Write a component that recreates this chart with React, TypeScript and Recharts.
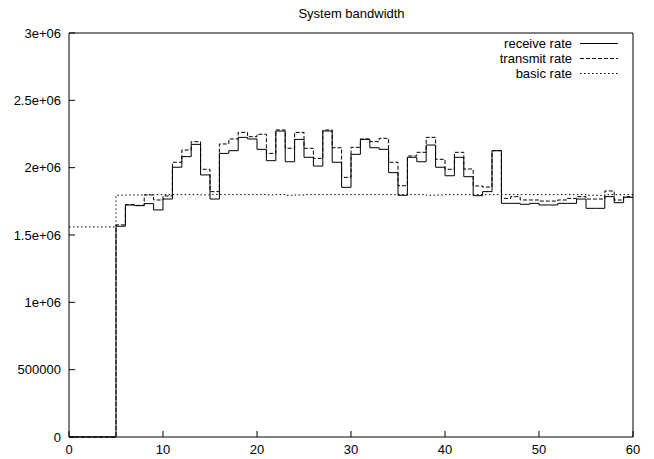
import React from 'react';
import { LineChart, Line, XAxis, YAxis } from 'recharts';

const seconds: number[] = Array.from({ length: 61 }, (_, i) => i);

const receiveRate: number[] = [
  0, 0, 0, 0, 0,
  1.565e6, 1.723e6, 1.718e6, 1.733e6, 1.686e6,
  1.767e6, 2.003e6, 2.082e6, 2.173e6, 1.946e6,
  1.767e6, 2.106e6, 2.126e6, 2.225e6, 2.213e6,
  2.136e6, 2.052e6, 2.272e6, 2.044e6, 2.21e6,
  2.077e6, 2.012e6, 2.272e6, 2.04e6, 1.854e6,
  2.099e6, 2.21e6, 2.148e6, 2.136e6, 1.963e6,
  1.795e6, 2.077e6, 2.044e6, 2.168e6, 2.003e6,
  1.94e6, 2.077e6, 1.933e6, 1.792e6, 1.822e6,
  2.126e6, 1.735e6, 1.735e6, 1.728e6, 1.735e6,
  1.723e6, 1.723e6, 1.735e6, 1.735e6, 1.767e6,
  1.698e6, 1.698e6, 1.785e6, 1.74e6, 1.78e6,
  1.78e6,
];

const transmitRate: number[] = [
  0, 0, 0, 0, 0,
  1.575e6, 1.725e6, 1.72e6, 1.797e6, 1.76e6,
  1.79e6, 2.04e6, 2.131e6, 2.193e6, 1.988e6,
  1.822e6, 2.176e6, 2.213e6, 2.262e6, 2.23e6,
  2.248e6, 2.106e6, 2.28e6, 2.144e6, 2.262e6,
  2.144e6, 2.069e6, 2.28e6, 2.148e6, 1.928e6,
  2.151e6, 2.213e6, 2.193e6, 2.218e6, 2.04e6,
  1.866e6, 2.087e6, 2.114e6, 2.225e6, 2.062e6,
  1.988e6, 2.114e6, 1.99e6, 1.864e6, 1.856e6,
  2.126e6, 1.772e6, 1.785e6, 1.76e6, 1.76e6,
  1.752e6, 1.752e6, 1.76e6, 1.772e6, 1.785e6,
  1.767e6, 1.767e6, 1.827e6, 1.76e6, 1.785e6,
  1.785e6,
];

const basicRate: number[] = [
  1.56e6, 1.56e6, 1.56e6, 1.56e6, 1.56e6,
  1.795e6, 1.797e6, 1.797e6, 1.8e6, 1.8e6,
  1.8e6, 1.8e6, 1.8e6, 1.8e6, 1.798e6,
  1.8e6, 1.8e6, 1.8e6, 1.8e6, 1.8e6,
  1.8e6, 1.798e6, 1.8e6, 1.795e6, 1.797e6,
  1.8e6, 1.8e6, 1.8e6, 1.8e6, 1.8e6,
  1.8e6, 1.8e6, 1.8e6, 1.8e6, 1.8e6,
  1.8e6, 1.8e6, 1.8e6, 1.795e6, 1.797e6,
  1.8e6, 1.8e6, 1.8e6, 1.8e6, 1.8e6,
  1.8e6, 1.8e6, 1.8e6, 1.8e6, 1.8e6,
  1.8e6, 1.8e6, 1.8e6, 1.8e6, 1.8e6,
  1.795e6, 1.795e6, 1.8e6, 1.8e6, 1.8e6,
  1.8e6,
];

const xTicks: number[] = [0, 10, 20, 30, 40, 50, 60];
const yTicks: number[] = [0, 500000, 1000000, 1500000, 2000000, 2500000, 3000000];
const yTickLabels: string[] = ['0', '500000', '1e+06', '1.5e+06', '2e+06', '2.5e+06', '3e+06'];

const title = 'System bandwidth';
const legendItems = [
  { label: 'receive rate', dash: undefined as string | undefined },
  { label: 'transmit rate', dash: '4 2' },
  { label: 'basic rate', dash: '1.5 2.5' },
];

const data = seconds.map((s, i) => ({
  t: s,
  receive: receiveRate[i],
  transmit: transmitRate[i],
  basic: basicRate[i],
}));

const FONT = '"Liberation Sans", Arial, Helvetica, sans-serif';
const tickStyle = { fontSize: 13, fill: '#000', fontFamily: FONT };

export default function App() {
  return (
    <div style={{ position: 'absolute', left: 0, top: 0, width: 654, height: 459, background: '#fff', fontFamily: FONT }}>
      <LineChart width={654} height={459} data={data} margin={{ top: 0, right: 0, bottom: 0, left: 0 }}>
        <XAxis
          xAxisId="bottom"
          dataKey="t"
          type="number"
          domain={[0, 60]}
          ticks={xTicks}
          orientation="bottom"
          height={22}
          axisLine={{ stroke: '#000' }}
          tickLine={{ stroke: '#000' }}
          tickSize={-6}
          tickMargin={14}
          tick={tickStyle}
          interval={0}
        />
        <XAxis
          xAxisId="top"
          dataKey="t"
          type="number"
          domain={[0, 60]}
          ticks={xTicks}
          orientation="top"
          height={33}
          axisLine={{ stroke: '#000' }}
          tickLine={{ stroke: '#000' }}
          tickSize={-6}
          tick={false}
          interval={0}
        />
        <YAxis
          yAxisId="left"
          type="number"
          domain={[0, 3000000]}
          ticks={yTicks}
          orientation="left"
          width={69}
          axisLine={{ stroke: '#000' }}
          tickLine={{ stroke: '#000' }}
          tickSize={-6}
          tickMargin={14}
          tick={tickStyle}
          tickFormatter={(v: number) => yTickLabels[yTicks.indexOf(v)] ?? String(v)}
          interval={0}
        />
        <YAxis
          yAxisId="right"
          type="number"
          domain={[0, 3000000]}
          ticks={yTicks}
          orientation="right"
          width={21}
          axisLine={{ stroke: '#000' }}
          tickLine={{ stroke: '#000' }}
          tickSize={-6}
          tick={false}
          interval={0}
        />
        <Line xAxisId="bottom" yAxisId="left" type="stepAfter" dataKey="basic" stroke="#000" strokeWidth={1} strokeDasharray="1.5 2.5" dot={false} isAnimationActive={false} />
        <Line xAxisId="bottom" yAxisId="left" type="stepAfter" dataKey="transmit" stroke="#000" strokeWidth={1} strokeDasharray="4 2" dot={false} isAnimationActive={false} />
        <Line xAxisId="bottom" yAxisId="left" type="stepAfter" dataKey="receive" stroke="#000" strokeWidth={1} dot={false} isAnimationActive={false} />
      </LineChart>
      <div style={{ position: 'absolute', left: 0, width: 703, top: 6, textAlign: 'center', fontSize: 13, lineHeight: '15px', color: '#000' }}>
        {title}
      </div>
      <div style={{ position: 'absolute', left: 400, top: 36 }}>
        {legendItems.map((it) => (
          <div key={it.label} style={{ display: 'flex', alignItems: 'center', height: 15, fontSize: 13, color: '#000' }}>
            <span style={{ width: 172, textAlign: 'right', lineHeight: '15px' }}>{it.label}</span>
            <svg width={46} height={15} style={{ marginLeft: 8 }}>
              <line x1={0} x2={38} y1={7.5} y2={7.5} stroke="#000" strokeWidth={1} strokeDasharray={it.dash} />
            </svg>
          </div>
        ))}
      </div>
    </div>
  );
}
